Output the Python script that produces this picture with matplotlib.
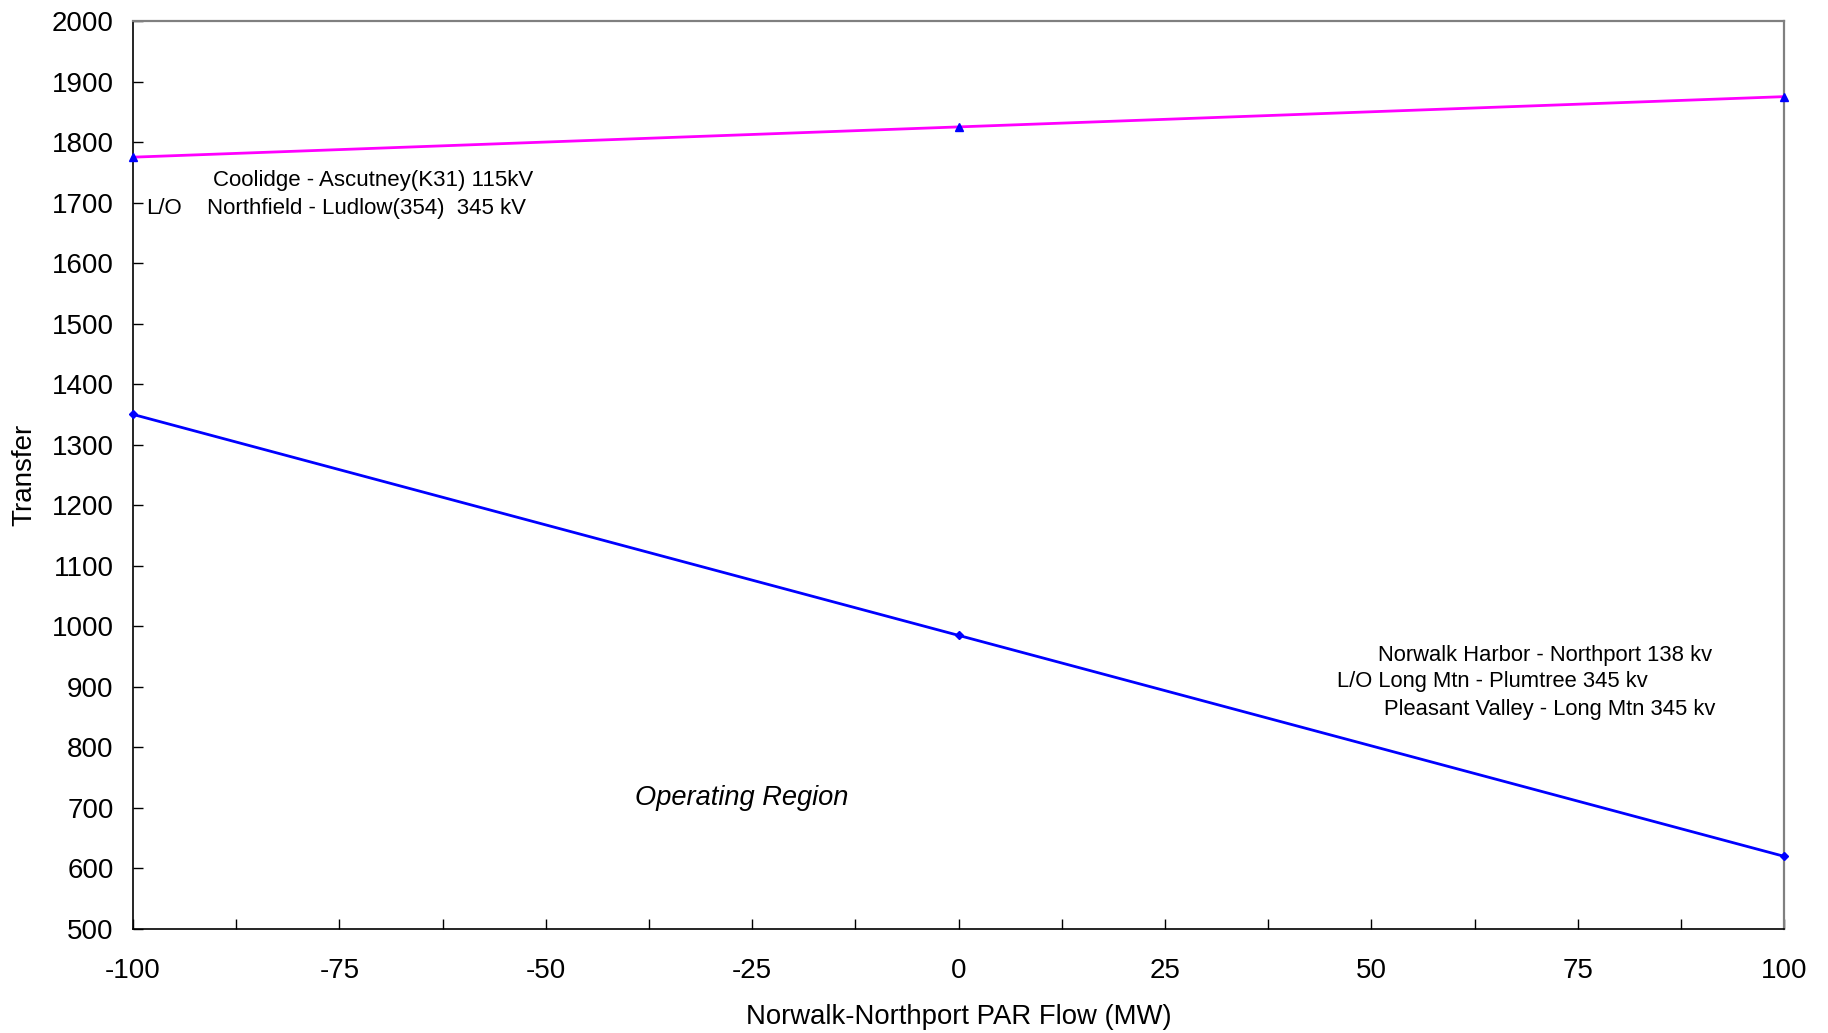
import numpy as np
import matplotlib.pyplot as plt
from matplotlib.ticker import MultipleLocator

plt.rcParams['font.family'] = ['Liberation Sans', 'DejaVu Sans']
plt.rcParams['axes.unicode_minus'] = False

# data
parFlow = [-100, 0, 100]
upperLimit = [1775, 1825, 1875]   # Coolidge - Ascutney
lowerLimit = [1350, 985, 620]     # Norwalk Harbor - Northport

fig = plt.figure(figsize = (18.28, 10.33), dpi = 100)
ax = fig.add_axes([0.0728, 0.1007, 0.976 - 0.0728, 0.9797 - 0.1007])

ax.plot(parFlow, upperLimit, color = '#FF00FF', lw = 2, marker = '^', ms = 5.5,
	mfc = '#0000FF', mec = '#0000FF', clip_on = False, zorder = 3)
ax.plot(parFlow, lowerLimit, color = '#0000FF', lw = 2, marker = 'D', ms = 4.5,
	mfc = '#0000FF', mec = '#0000FF', clip_on = False, zorder = 3)

ax.set_xlim(-100, 100)
ax.set_ylim(500, 2000)
ax.xaxis.set_major_locator(MultipleLocator(25))
ax.xaxis.set_minor_locator(MultipleLocator(12.5))
ax.yaxis.set_major_locator(MultipleLocator(100))
ax.tick_params(axis = 'x', which = 'both', direction = 'in', top = False, labelsize = 20, pad = 21)
ax.tick_params(axis = 'x', which = 'major', length = 7, width = 1)
ax.tick_params(axis = 'x', which = 'minor', length = 7, width = 1)
ax.tick_params(axis = 'y', direction = 'in', right = False, labelsize = 20, pad = 14, length = 7, width = 1)

for s in ('left', 'bottom'):
	ax.spines[s].set_color('black')
	ax.spines[s].set_linewidth(1.2)
for s in ('top', 'right'):
	ax.spines[s].set_color('#808080')
	ax.spines[s].set_linewidth(1.6)

ax.set_xlabel('Norwalk-Northport PAR Flow (MW)', fontsize = 19.8, labelpad = 14)
ax.set_ylabel('Transfer', fontsize = 20, labelpad = 10)

# annotations
fs = 16
ax.text(-90.3, 1736, 'Coolidge - Ascutney(K31) 115kV', fontsize = fs, va = 'center')
ax.text(-98.4, 1690, 'L/O', fontsize = fs, va = 'center')
ax.text(-91.1, 1690, 'Northfield - Ludlow(354)  345 kV', fontsize = fs, va = 'center')

ax.text(50.85, 952, 'Norwalk Harbor - Northport 138 kv', fontsize = 15.8, va = 'center')
ax.text(45.8, 908, 'L/O Long Mtn - Plumtree 345 kv', fontsize = 15.8, va = 'center')
ax.text(51.5, 862, 'Pleasant Valley - Long Mtn 345 kv', fontsize = 15.8, va = 'center')

ax.text(-26.3, 717, 'Operating Region', fontsize = 19.6, style = 'italic', ha = 'center', va = 'center')

fig.savefig('out.png', dpi = 100)
